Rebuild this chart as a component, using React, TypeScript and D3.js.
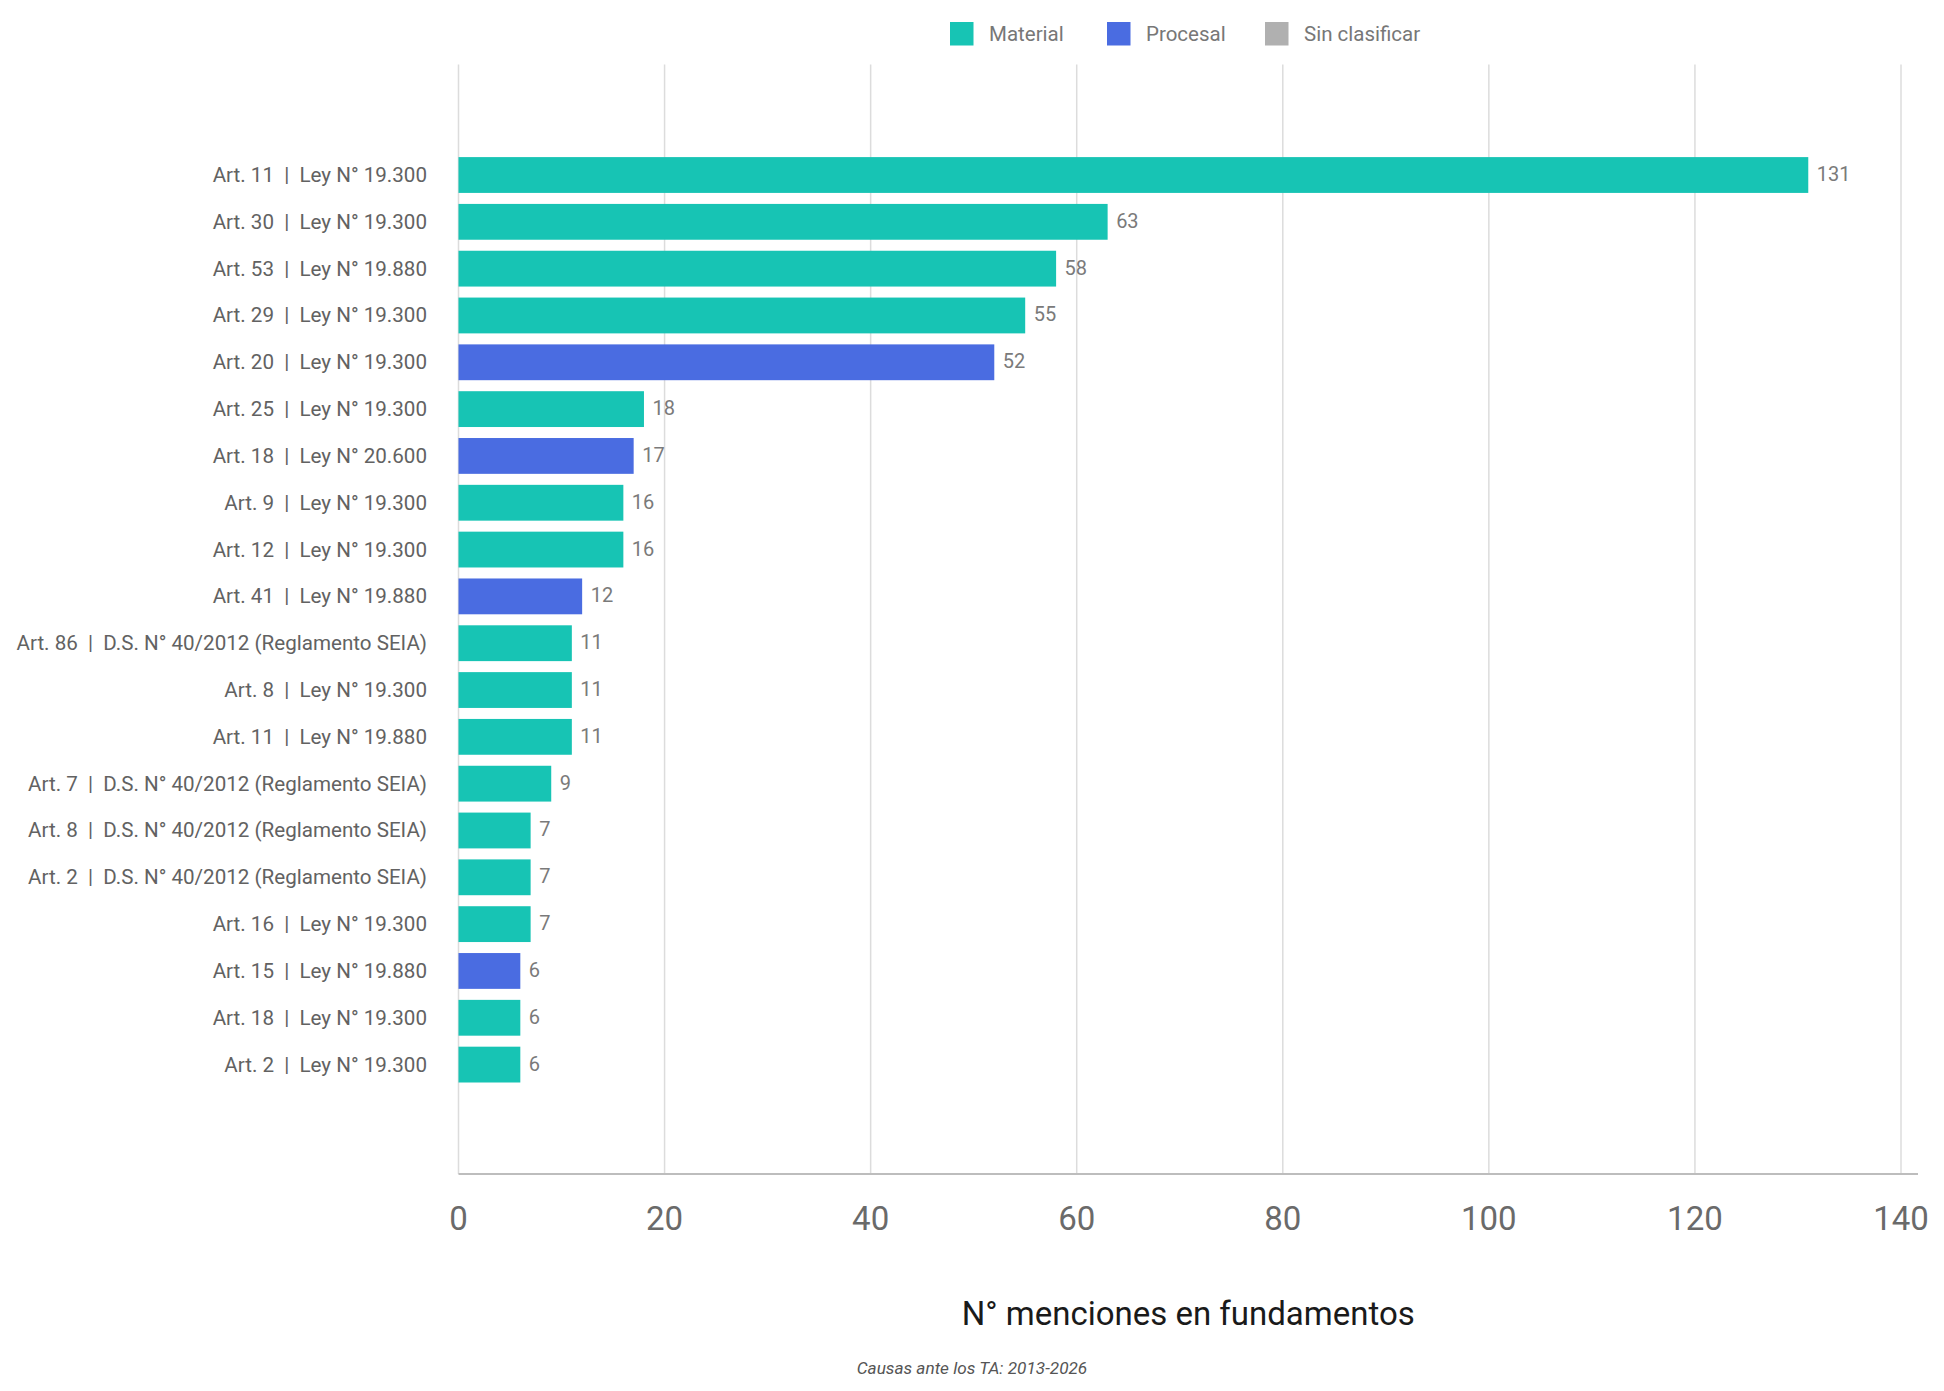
import React from "react";
import * as d3 from "d3";

const categories: string[] = [
  "Art. 11  |  Ley N° 19.300",
  "Art. 30  |  Ley N° 19.300",
  "Art. 53  |  Ley N° 19.880",
  "Art. 29  |  Ley N° 19.300",
  "Art. 20  |  Ley N° 19.300",
  "Art. 25  |  Ley N° 19.300",
  "Art. 18  |  Ley N° 20.600",
  "Art. 9  |  Ley N° 19.300",
  "Art. 12  |  Ley N° 19.300",
  "Art. 41  |  Ley N° 19.880",
  "Art. 86  |  D.S. N° 40/2012 (Reglamento SEIA)",
  "Art. 8  |  Ley N° 19.300",
  "Art. 11  |  Ley N° 19.880",
  "Art. 7  |  D.S. N° 40/2012 (Reglamento SEIA)",
  "Art. 8  |  D.S. N° 40/2012 (Reglamento SEIA)",
  "Art. 2  |  D.S. N° 40/2012 (Reglamento SEIA)",
  "Art. 16  |  Ley N° 19.300",
  "Art. 15  |  Ley N° 19.880",
  "Art. 18  |  Ley N° 19.300",
  "Art. 2  |  Ley N° 19.300",
];

const values: number[] = [131, 63, 58, 55, 52, 18, 17, 16, 16, 12, 11, 11, 11, 9, 7, 7, 7, 6, 6, 6];

const types: string[] = [
  "Material", "Material", "Material", "Material", "Procesal",
  "Material", "Procesal", "Material", "Material", "Procesal",
  "Material", "Material", "Material", "Material", "Material",
  "Material", "Material", "Procesal", "Material", "Material",
];

const legendKeys: string[] = ["Material", "Procesal", "Sin clasificar"];
const legendColors: string[] = ["#17c4b4", "#4a6ce1", "#b0b0b0"];
const xTicks: number[] = [0, 20, 40, 60, 80, 100, 120, 140];
const xTitle = "N° menciones en fundamentos";
const footer = "Causas ante los TA: 2013-2026";

const W = 1944;
const H = 1391;
const FONT = "Roboto, 'Noto Sans', sans-serif";

export default function App() {
  const x = d3.scaleLinear().domain([0, 140]).range([458.5, 1901]);
  const y = d3
    .scaleBand<string>()
    .domain(categories.map((c, i) => String(i)))
    .range([151.6, 1088])
    .paddingInner(0.235)
    .paddingOuter(0.1175);
  const color = d3.scaleOrdinal<string, string>().domain(legendKeys).range(legendColors);

  const gridTop = 64.5;
  const axisY = 1174;
  const axisRight = 1918;

  const legendX = [950, 1107, 1265];

  return (
    <div style={{ position: "absolute", left: 0, top: 0 }}>
      <svg width={W} height={H} style={{ display: "block", background: "#fff" }} fontFamily={FONT}>
        {/* legend */}
        {legendKeys.map((k, i) => (
          <g key={k}>
            <rect x={legendX[i]} y={22} width={23.5} height={23.5} fill={color(k)} />
            <text x={legendX[i] + 39} y={34} dominantBaseline="central" fontSize={20.5} fill="#777">
              {k}
            </text>
          </g>
        ))}
        {/* grid */}
        {xTicks.map((t) => (
          <line key={t} x1={x(t)} x2={x(t)} y1={gridTop} y2={axisY} stroke="#dcdcdc" strokeWidth={1.5} />
        ))}
        {/* bars */}
        {values.map((v, i) => (
          <rect
            key={i}
            x={x(0)}
            y={y(String(i))}
            width={x(v) - x(0)}
            height={y.bandwidth()}
            fill={color(types[i])}
          />
        ))}
        {/* value labels */}
        {values.map((v, i) => (
          <text
            key={"v" + i}
            x={x(v) + 8.5}
            y={(y(String(i)) as number) + y.bandwidth() / 2 - 1}
            dominantBaseline="central"
            fontSize={20}
            fill="#7a7a7a"
          >
            {v}
          </text>
        ))}
        {/* category labels */}
        {categories.map((c, i) => (
          <text
            key={"c" + i}
            x={427}
            y={(y(String(i)) as number) + y.bandwidth() / 2}
            dominantBaseline="central"
            textAnchor="end"
            fontSize={20.6}
            fill="#626262"
            style={{ whiteSpace: "pre" }}
          >
            {c}
          </text>
        ))}
        {/* axis line */}
        <line x1={x(0)} x2={axisRight} y1={axisY} y2={axisY} stroke="#bdbdbd" strokeWidth={2} />
        {/* tick labels */}
        {xTicks.map((t) => (
          <text key={"t" + t} x={x(t)} y={1230} textAnchor="middle" fontSize={33} fill="#6a6a6a">
            {t}
          </text>
        ))}
        {/* axis title */}
        <text x={(x(0) + axisRight) / 2} y={1325} textAnchor="middle" fontSize={33} fill="#1a1a1a">
          {xTitle}
        </text>
        {/* footer */}
        <text x={972} y={1374} textAnchor="middle" fontSize={17.2} fontStyle="italic" fill="#555">
          {footer}
        </text>
      </svg>
    </div>
  );
}
